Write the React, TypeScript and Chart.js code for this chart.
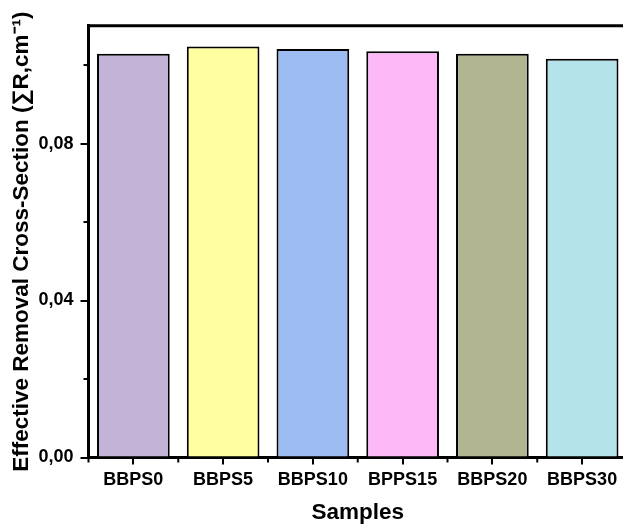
import React, { useEffect, useRef } from "react";
import { Chart, registerables } from "chart.js";
Chart.register(...registerables);

const categories = ["BBPS0", "BBPS5", "BBPS10", "BPPS15", "BBPS20", "BBPS30"];
const values = [0.1029, 0.1047, 0.1041, 0.1035, 0.1029, 0.1016];
const barColors = ["#C3B3D7", "#FFFFA0", "#9DBDF2", "#FDB9F7", "#B2B690", "#B5E3EA"];
const yMajorTicks = [0, 0.04, 0.08];
const yMinorTicks = [0.02, 0.06, 0.1];
const yMin = 0;
const yMax = 0.11;
const xTitle = "Samples";
const yTitle = "Effective Removal Cross-Section (\u2211R,cm\u207B\u00B9)";

const FONT = "'Liberation Sans', Arial, sans-serif";

const framePlugin = {
  id: "frameAndMinor",
  afterDraw(chart: any) {
    const { ctx, chartArea } = chart;
    const xs = chart.scales.x;
    const ys = chart.scales.y;
    ctx.save();
    ctx.strokeStyle = "#000";
    // top frame line
    ctx.lineWidth = 3;
    ctx.beginPath();
    ctx.moveTo(chartArea.left - 1.5, chartArea.top);
    ctx.lineTo(chart.width, chartArea.top);
    ctx.stroke();
    // y minor ticks
    ctx.lineWidth = 2;
    yMinorTicks.forEach((v) => {
      const y = ys.getPixelForValue(v);
      ctx.beginPath();
      ctx.moveTo(chartArea.left - 5, y);
      ctx.lineTo(chartArea.left, y);
      ctx.stroke();
    });
    // x minor ticks at category boundaries
    const n = categories.length;
    for (let i = 0; i <= n; i++) {
      let x;
      if (i === 0) x = chartArea.left;
      else if (i === n) x = chartArea.right;
      else x = (xs.getPixelForValue(i - 1) + xs.getPixelForValue(i)) / 2;
      ctx.beginPath();
      ctx.moveTo(x, chartArea.bottom);
      ctx.lineTo(x, chartArea.bottom + 5);
      ctx.stroke();
    }
    ctx.restore();
  },
};

export default function App() {
  const ref = useRef<HTMLCanvasElement | null>(null);
  useEffect(() => {
    if (!ref.current) return;
    const chart = new Chart(ref.current, {
      type: "bar",
      data: {
        labels: categories,
        datasets: [
          {
            data: values,
            backgroundColor: barColors,
            borderColor: "#000",
            borderWidth: 2,
            barPercentage: 0.81,
            categoryPercentage: 1,
          },
        ],
      },
      options: {
        animation: false,
        responsive: true,
        maintainAspectRatio: false,
        layout: { padding: { top: 16, right: 6, left: 0, bottom: 0 } },
        plugins: { legend: { display: false }, tooltip: { enabled: false } },
        scales: {
          x: {
            offset: true,
            afterFit: (s: any) => {
              s.height = 68.5;
            },
            grid: {
              offset: false,
              drawOnChartArea: false,
              tickLength: 7,
              color: "#000",
              lineWidth: 2,
            },
            border: { color: "#000", width: 3 },
            ticks: {
              color: "#000",
              font: { family: FONT, size: 18, weight: "bold" },
              padding: 5,
              maxRotation: 0,
            },
            title: {
              display: true,
              text: xTitle,
              color: "#000",
              font: { family: FONT, size: 22.5, weight: "bold" },
              padding: 0,
            },
          },
          y: {
            min: yMin,
            max: yMax,
            afterFit: (s: any) => {
              s.width = 80.5;
            },
            afterBuildTicks: (s: any) => {
              s.ticks = yMajorTicks.map((v) => ({ value: v }));
            },
            grid: {
              drawOnChartArea: false,
              tickLength: 8,
              color: "#000",
              lineWidth: 2,
            },
            border: { color: "#000", width: 3 },
            ticks: {
              color: "#000",
              font: { family: FONT, size: 18, weight: "bold" },
              padding: 7,
              callback: (v: any) => Number(v).toFixed(2).replace(".", ","),
            },
            title: {
              display: true,
              text: yTitle,
              color: "#000",
              font: { family: FONT, size: 22.5, weight: "bold" },
              padding: 0,
            },
          },
        },
      },
      plugins: [framePlugin],
    } as any);
    return () => chart.destroy();
  }, []);
  return (
    <div style={{ position: "fixed", left: 8, top: 8, width: 615, height: 518, overflow: "hidden" }}>
      <div style={{ width: 625, height: 518, position: "relative" }}>
        <canvas ref={ref} />
      </div>
    </div>
  );
}
